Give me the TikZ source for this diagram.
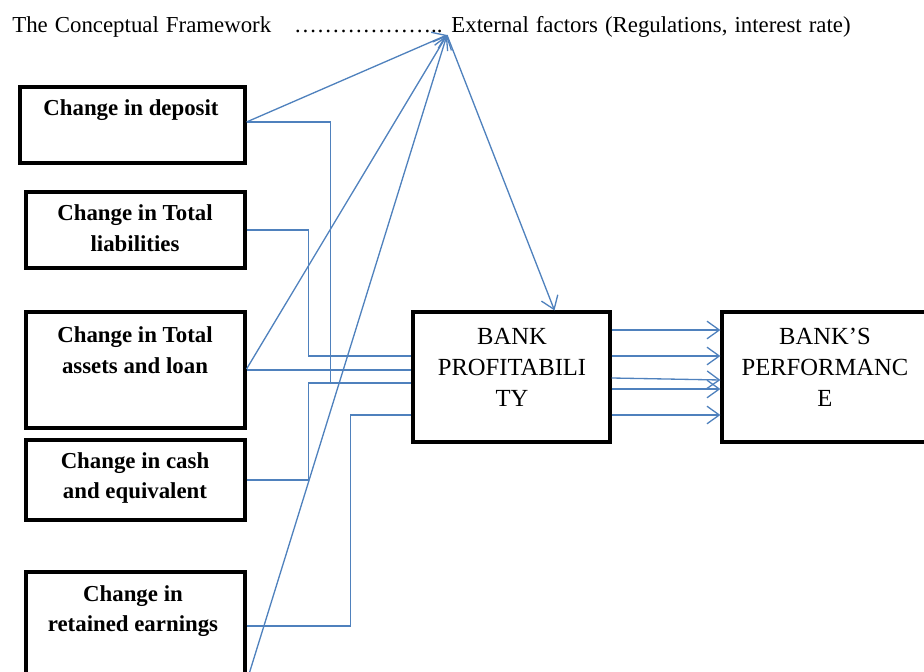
\documentclass[tikz,border=0pt]{standalone}
\usepackage{fontspec}
\setmainfont{Liberation Serif}
\usetikzlibrary{arrows.meta,calc}
\definecolor{linkblue}{RGB}{79,129,189}
\tikzset{
  box/.style={draw, line width=1.8pt, inner sep=0pt},
  lbl/.style={font=\bfseries\fontsize{13}{17.5}\selectfont, align=center, inner sep=0pt},
  capt/.style={font=\fontsize{14}{17.6}\selectfont, align=center, inner sep=0pt},
  conn/.style={draw=linkblue, line width=0.75pt},
  tip/.style={conn, -{Straight Barb[length=7pt,width=10pt]}},
}
\begin{document}
\begin{tikzpicture}[x=0.02cm, y=-0.02cm]
  \clip (0,0) rectangle (924,672);
  % heading
  \node[font=\fontsize{13}{15}\selectfont, anchor=west, inner sep=0pt] (title) at (12,27)
    {\spaceskip=4pt plus 1pt The Conceptual Framework\quad ……………….. External factors (Regulations, interest rate)};
  \coordinate (F) at (447,35);
  % input boxes
  \node[box, minimum width=4.5cm, minimum height=1.52cm] (dep) at (132.5,125) {};
  \node[box, minimum width=4.38cm, minimum height=1.52cm] (liab) at (135.5,230) {};
  \node[box, minimum width=4.38cm, minimum height=2.32cm] (asset) at (135.5,370) {};
  \node[box, minimum width=4.38cm, minimum height=1.6cm] (cash) at (135.5,480) {};
  \node[box, minimum width=4.38cm, minimum height=2.56cm] (ret) at (135.5,636) {};
  \node[lbl] (dep-t) at (131,110) {Change in deposit};
  \node[lbl] (liab-t) at (135,228) {Change in Total\\liabilities};
  \node[lbl] (asset-t) at (135,350) {Change in Total\\assets and loan};
  \node[lbl] (cash-t) at (135,478) {Change in cash\\and equivalent};
  \node[lbl] (ret-t) at (133,611) {Change in\\retained earnings};
  % outcome boxes
  \node[box, minimum width=3.94cm, minimum height=2.6cm] (prof) at (511.5,377) {};
  \node[box, minimum width=4.2cm, minimum height=2.6cm] (perf) at (827,377) {};
  \node[capt] (prof-t) at (512,367) {BANK\\PROFITABILI\\TY};
  \node[capt] (perf-t) at (825,367) {BANK’S\\PERFORMANC\\E};
  % elbow links into profitability
  \draw[conn] ($(dep.east)+(0,-3)$) -- ++(84,0) |- ($(prof.west)+(0,6)$);
  \draw[conn] (liab.east) -- ++(62,0) |- ($(prof.west)+(0,-21)$);
  \draw[conn] (asset.east) -- ($(prof.west)+(0,-7)$);
  \draw[conn] (cash.east) -- ++(62,0) |- ($(prof.west)+(0,6)$);
  \draw[conn] ($(ret.east)+(0,-10)$) -- ++(104,0) |- ($(prof.west)+(0,38)$);
  % links to external factors
  \draw[tip] ($(dep.east)+(0,-3)$) -- (F);
  \draw[tip] ($(asset.east)+(0,-1)$) -- (F);
  \draw[tip] ($(ret.east)+(0,46)$) -- (F);
  \draw[tip] (F) -- ($(prof.north)+(43,0)$);
  % profitability to performance
  \foreach \a/\b in {-47/-47, -21/-21, 1/3, 12/12, 38/38}
    \draw[tip] ($(prof.east)+(0,\a)$) -- ($(perf.west)+(0,\b)$);
\end{tikzpicture}
\end{document}
